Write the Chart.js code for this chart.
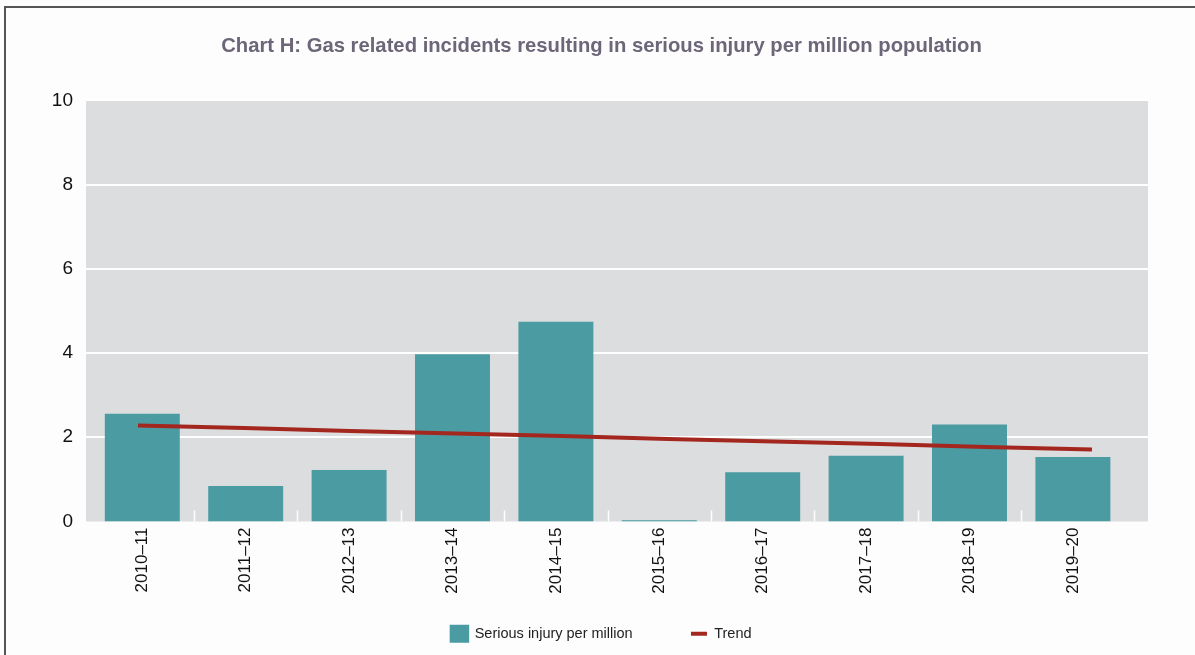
<!DOCTYPE html>
<html>
<head>
<meta charset="utf-8">
<script src="https://cdn.jsdelivr.net/npm/chart.js@4/dist/chart.umd.min.js"></script>
<style>
  html, body { margin: 0; padding: 0; background: #fdfdfd; }
  #wrap { width: 1195px; height: 655px; position: relative; }
</style>
</head>
<body>
<div id="wrap"><canvas id="c" width="1195" height="655"></canvas></div>
<script>
const categories = ["2010–11","2011–12","2012–13","2013–14","2014–15","2015–16","2016–17","2017–18","2018–19","2019–20"];
const seriousInjury = [2.56, 0.84, 1.22, 3.97, 4.74, 0.03, 1.17, 1.56, 2.30, 1.53];
const trend = [2.28, 2.22, 2.15, 2.09, 2.03, 1.96, 1.90, 1.84, 1.77, 1.71];
const yTicks = [0, 2, 4, 6, 8, 10];

const FONT = "'Liberation Sans', Arial, sans-serif";

const decor = {
  id: 'decor',
  beforeDraw(chart) {
    const ctx = chart.ctx, a = chart.chartArea, y = chart.scales.y;
    const bgLeft = a.left - 4.6, bgRight = a.right + 23.4;
    ctx.save();
    ctx.fillStyle = '#fdfdfd';
    ctx.fillRect(0, 0, chart.width, chart.height);
    // frame lines
    ctx.strokeStyle = '#555555';
    ctx.lineWidth = 2;
    ctx.beginPath();
    ctx.moveTo(5, chart.height);
    ctx.lineTo(5, 7);
    ctx.lineTo(chart.width, 7);
    ctx.stroke();
    // plot background
    ctx.fillStyle = '#dcdddf';
    ctx.fillRect(bgLeft, a.top, bgRight - bgLeft, a.bottom - a.top);
    // horizontal grid lines
    ctx.strokeStyle = '#ffffff';
    ctx.lineWidth = 2;
    ctx.beginPath();
    yTicks.forEach(v => {
      if (v === 0) return;
      const py = Math.round(y.getPixelForValue(v));
      ctx.moveTo(bgLeft, py);
      ctx.lineTo(bgRight, py);
    });
    ctx.stroke();
    ctx.restore();
  },
  afterDatasetsDraw(chart) {
    // short white separators between categories at the bottom
    const ctx = chart.ctx, a = chart.chartArea, x = chart.scales.x;
    ctx.save();
    ctx.strokeStyle = '#ffffff';
    ctx.lineWidth = 1.5;
    ctx.beginPath();
    for (let i = 1; i < categories.length; i++) {
      const px = Math.round((x.getPixelForTick(i - 1) + x.getPixelForTick(i)) / 2) + 0.5;
      ctx.moveTo(px, a.bottom);
      ctx.lineTo(px, a.bottom - 11);
    }
    ctx.stroke();
    ctx.restore();
  }
};

new Chart(document.getElementById('c'), {
  data: {
    labels: categories,
    datasets: [
      {
        type: 'line',
        label: 'Trend',
        data: trend.map((v, i) => ({ x: i, y: v })),
        xAxisID: 'xTrend',
        borderColor: '#a3271f',
        backgroundColor: '#a3271f',
        borderWidth: 4,
        pointRadius: 0,
        pointStyle: 'line',
        tension: 0,
        order: 0
      },
      {
        type: 'bar',
        label: 'Serious injury per million',
        data: seriousInjury,
        xAxisID: 'x',
        backgroundColor: '#4a9ba2',
        borderWidth: 0,
        grouped: false,
        barPercentage: 0.725,
        categoryPercentage: 1.0,
        pointStyle: 'rect',
        order: 1
      }
    ]
  },
  options: {
    responsive: false,
    animation: false,
    devicePixelRatio: 1,
    layout: { padding: { left: 8, right: 0, top: 0, bottom: 4 } },
    plugins: {
      title: {
        display: true,
        text: 'Chart H: Gas related incidents resulting in serious injury per million population',
        color: '#6c6678',
        font: { family: FONT, size: 20.25, weight: 'bold' },
        padding: { top: 34, bottom: 42 }
      },
      legend: {
        position: 'bottom',
        reverse: true,
        labels: {
          color: '#222222',
          font: { family: FONT, size: 14.5 },
          usePointStyle: true,
          pointStyleWidth: 16,
          boxHeight: 18,
          padding: 10,
          generateLabels(chart) {
            const items = Chart.defaults.plugins.legend.labels.generateLabels(chart);
            items.forEach(it => {
              if (it.text === 'Trend') {
                it.lineWidth = 4; it.strokeStyle = '#a3271f'; it.pointStyle = 'line';
              } else {
                it.lineWidth = 3.5; it.strokeStyle = '#4a9ba2'; it.fillStyle = '#4a9ba2';
                it.pointStyle = 'rect'; it.text = it.text + '            ';
              }
            });
            return items;
          }
        }
      },
      tooltip: { enabled: false }
    },
    scales: {
      x: {
        type: 'category',
        offset: true,
        grid: { display: false, drawTicks: false },
        border: { display: false },
        ticks: {
          color: '#111111',
          font: { family: FONT, size: 17 },
          minRotation: 90,
          maxRotation: 90,
          padding: 6
        },
        afterFit(scale) { scale.height = 95; }
      },
      xTrend: {
        type: 'linear',
        display: false,
        min: -0.447,
        max: 9.308
      },
      y: {
        min: 0,
        max: 10,
        afterBuildTicks(scale) { scale.ticks = yTicks.map(v => ({ value: v })); },
        grid: { display: false, drawTicks: false },
        border: { display: false },
        ticks: {
          color: '#111111',
          font: { family: FONT, size: 19 },
          padding: 17.6
        },
        afterFit(scale) { scale.width = 82.6; }
      },
      yRight: {
        position: 'right',
        min: 0,
        max: 10,
        grid: { display: false, drawTicks: false },
        border: { display: false },
        ticks: { display: false },
        afterFit(scale) { scale.width = 70.4; }
      }
    }
  },
  plugins: [decor]
});
</script>
</body>
</html>
